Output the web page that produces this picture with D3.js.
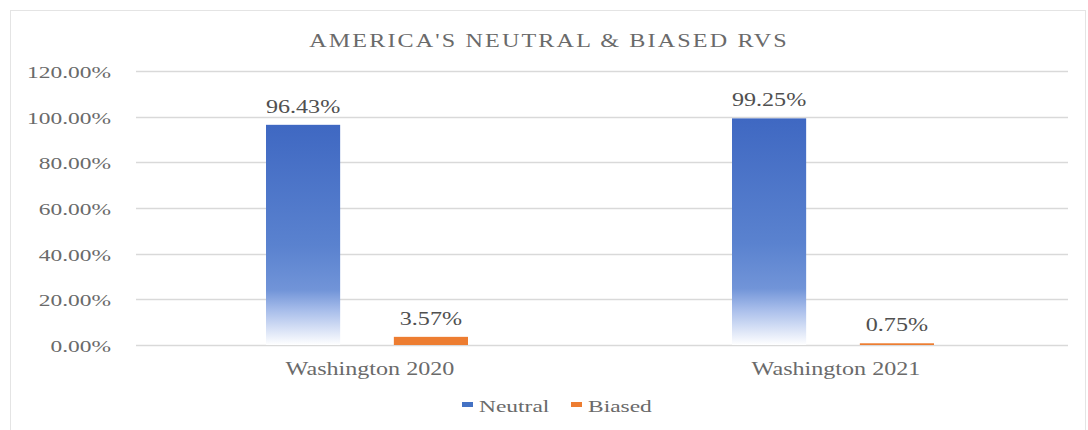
<!DOCTYPE html>
<html><head><meta charset="utf-8">
<script src="https://cdn.jsdelivr.net/npm/d3@7"></script>
<style>body{margin:0;background:#fff}svg{display:block}</style>
</head><body>
<svg id="c" width="1088" height="430"></svg>
<script>
const categories = ["Washington 2020", "Washington 2021"];
const seriesNames = ["Neutral", "Biased"];
const neutral = [96.43, 99.25];
const biased = [3.57, 0.75];
const yTicks = [0, 20, 40, 60, 80, 100, 120];
const colors = {Neutral: "#4472C4", Biased: "#ED7D31"};

const svg = d3.select("#c");
const font = "'Liberation Serif', 'Times New Roman', serif";
const SX = 1.34;
function txt(sel, x, y) {
  return sel.attr("transform", (d, i) => `translate(${typeof x === "function" ? x(d, i) : x},${typeof y === "function" ? y(d, i) : y}) scale(${SX},1)`)
    .attr("font-family", font);
}

// frame
svg.append("rect").attr("x", 10.5).attr("y", 10.5).attr("width", 1075).attr("height", 430)
  .attr("fill", "none").attr("stroke", "#e4e4e4");

const m = {left: 136, right: 1068, top: 71, bottom: 345};
const y = d3.scaleLinear().domain([0, 120]).range([m.bottom, m.top]);
const x0 = d3.scaleBand().domain(categories).range([m.left, m.right]).paddingInner(0).paddingOuter(0);
const x1 = d3.scaleBand().domain(seriesNames).range([130, 332]).paddingInner(0.42);

const defs = svg.append("defs");
const g = defs.append("linearGradient").attr("id", "gn").attr("x1", 0).attr("y1", 0).attr("x2", 0).attr("y2", 1);
[["0%", "#3f68c2"], ["55%", "#5a82cf"], ["75%", "#7194d8"], ["84%", "#a6bcea"], ["100%", "#ffffff"]]
  .forEach(([o, c]) => g.append("stop").attr("offset", o).attr("stop-color", c));

// gridlines
svg.append("g").selectAll("line").data(yTicks).join("line")
  .attr("x1", m.left).attr("x2", m.right)
  .attr("y1", d => Math.round(y(d)) + 0.5).attr("y2", d => Math.round(y(d)) + 0.5)
  .attr("stroke", "#d9d9d9").attr("stroke-width", 1.3);

// y labels
txt(svg.append("g").selectAll("text").data(yTicks).join("text"), 111, d => y(d) + 7)
  .attr("text-anchor", "end").attr("font-size", 17.5).attr("fill", "#6a6a6a")
  .text(d => d.toFixed(2) + "%");

const data = [];
categories.forEach((c, i) => {
  data.push({cat: c, s: "Neutral", v: neutral[i]});
  data.push({cat: c, s: "Biased", v: biased[i]});
});

svg.append("g").selectAll("rect").data(data).join("rect")
  .attr("x", d => x0(d.cat) + x1(d.s))
  .attr("width", x1.bandwidth())
  .attr("y", d => y(d.v))
  .attr("height", d => y(0) - y(d.v))
  .attr("fill", d => d.s === "Neutral" ? "url(#gn)" : colors.Biased);

txt(svg.append("g").selectAll("text").data(data).join("text"),
    d => x0(d.cat) + x1(d.s) + x1.bandwidth() / 2, d => y(d.v) - 12)
  .attr("text-anchor", "middle").attr("font-size", 18).attr("fill", "#505050")
  .text(d => d.v.toFixed(2) + "%");

// category labels
txt(svg.append("g").selectAll("text").data(categories).join("text"),
    d => x0(d) + x0.bandwidth() / 2 + 1, 375)
  .attr("text-anchor", "middle").attr("font-size", 18).attr("fill", "#6a6a6a")
  .text(d => d);

// title
txt(svg.append("text"), 549, 47)
  .attr("text-anchor", "middle").attr("font-size", 18).attr("fill", "#6a6a6a")
  .attr("letter-spacing", 1.6)
  .text("AMERICA'S NEUTRAL & BIASED RVS");

// legend
const leg = [{s: "Neutral", x: 462}, {s: "Biased", x: 571}];
const lg = svg.append("g").selectAll("g").data(leg).join("g");
lg.append("rect").attr("x", d => d.x).attr("y", 402).attr("width", 11).attr("height", 5)
  .attr("fill", d => colors[d.s]);
txt(lg.append("text"), d => d.x + 17, 412)
  .attr("font-size", 17.5).attr("fill", "#6a6a6a")
  .text(d => d.s);
</script>
</body></html>
